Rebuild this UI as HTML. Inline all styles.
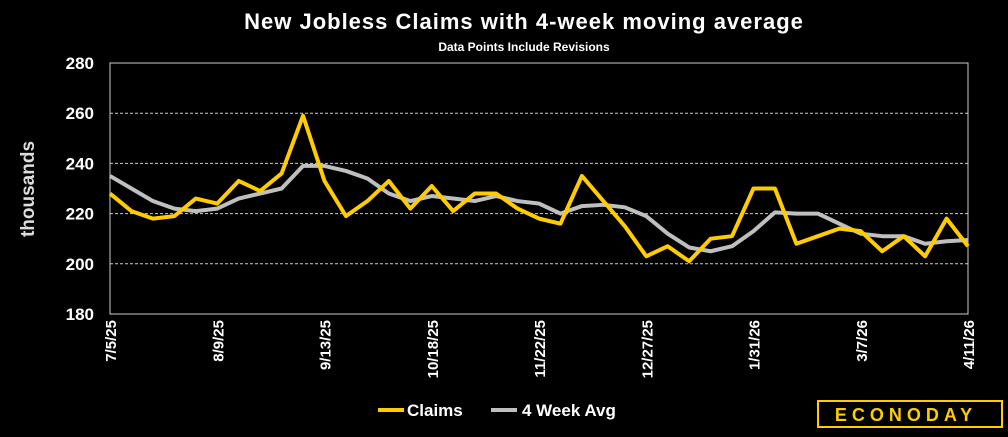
<!DOCTYPE html>
<html><head><meta charset="utf-8"><style>
body{margin:0;background:#000;width:1008px;height:432px;overflow:hidden;font-family:"Liberation Sans",sans-serif}
</style></head><body>
<svg width="1008" height="432" xmlns="http://www.w3.org/2000/svg">
<text x="524" y="29" fill="#fff" font-size="22" font-weight="bold" text-anchor="middle" letter-spacing="1">New Jobless Claims with 4-week moving average</text>
<text x="524" y="51" fill="#fff" font-size="12" font-weight="bold" text-anchor="middle">Data Points Include Revisions</text>
<text transform="translate(34,189) rotate(-90)" fill="#ddd" font-size="19" font-weight="bold" text-anchor="middle">thousands</text>
<g id="grid"></g><g id="yt"></g><g id="xt"></g><g id="lines"></g>
<g>
<line x1="378" y1="410" x2="404" y2="410" stroke="#ffcc00" stroke-width="4"/>
<text x="407" y="416" fill="#fff" font-size="17" font-weight="bold">Claims</text>
<line x1="491" y1="410" x2="517" y2="410" stroke="#bfbfbf" stroke-width="4"/>
<text x="522" y="416" fill="#fff" font-size="17" font-weight="bold">4 Week Avg</text>
</g>
<g>
<rect x="818" y="401" width="184" height="26" fill="#000" stroke="#ffcc00" stroke-width="2"/>
<text x="906" y="421" fill="#ffcc00" font-size="18" font-weight="bold" text-anchor="middle" letter-spacing="5">ECONODAY</text>
</g>
</svg>
<script>
const labels=["7/5/25","8/9/25","9/13/25","10/18/25","11/22/25","12/27/25","1/31/26","3/7/26","4/11/26"];
const yTicks=[180,200,220,240,260,280];
const claims=[228,221,218,219,226,224,233,229,236,259,233,219,225,233,222,231,221,228,228,222,218,216,235,225,215,203,207,201,210,211,230,230,208,211,214,213,205,211,203,218,207];
const avg4=[235,230,225,222,221,222,226,228,230,239,239,237,234,228,225,227,226,225,227,225,224,220,223,223.5,222.5,219,212,206.5,205,207,213,220.5,220,220,216,212,211,211,208,209,209.5];
const NS="http://www.w3.org/2000/svg";
const X0=110,X1=968,Y0=314,Y1=63;
const xs=i=>X0+(X1-X0)*i/(claims.length-1);
const ys=v=>Y0-(v-180)/100*(Y0-Y1);
function mk(t,a,p){const e=document.createElementNS(NS,t);for(const k in a)e.setAttribute(k,a[k]);p.appendChild(e);return e;}
const g=document.getElementById('grid'),yt=document.getElementById('yt'),xt=document.getElementById('xt'),ln=document.getElementById('lines');
yTicks.forEach(v=>{
 if(v>180&&v<280){const l=mk('line',{x1:X0,x2:X1,y1:ys(v),y2:ys(v),stroke:'#ccc','stroke-dasharray':'3,2','stroke-width':1},g);
 
 }
 const t=mk('text',{x:94,y:ys(v)+6,fill:'#fff','font-size':17,'font-weight':'bold','text-anchor':'end'},yt);t.textContent=v;
 
 
});
const fr=mk('rect',{x:X0,y:Y1,width:X1-X0,height:Y0-Y1,fill:'none',stroke:'#ccc','stroke-width':1},g);


labels.forEach((s,k)=>{const x=xs(k*5);
 const t=mk('text',{transform:`translate(${x+6},${Y0+6}) rotate(-90)`,fill:'#fff','font-size':15,'font-weight':'bold','text-anchor':'end'},xt);t.textContent=s;
 
 
});
function line(d,c,n){const p=mk('polyline',{points:d.map((v,i)=>xs(i)+','+ys(v)).join(' '),fill:'none',stroke:c,'stroke-width':4,'stroke-linejoin':'round'},ln);
 
 }
line(avg4,'#bfbfbf','avg-line');
line(claims,'#ffcc00','claims-line');
</script>
</body></html>
